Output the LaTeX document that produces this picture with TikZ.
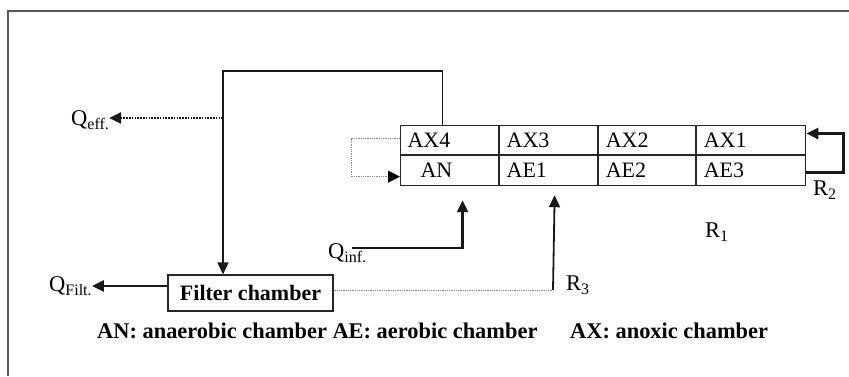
\documentclass[tikz,border=0pt]{standalone}
\usepackage{fontspec}
\setmainfont{Liberation Serif}
\usetikzlibrary{arrows.meta}
\newcommand\mysubt[1]{\raisebox{-4pt}{\fontsize{16}{16}\selectfont #1}}
\begin{document}
\begin{tikzpicture}[x=1pt,y=-1pt,
  cell/.style={draw=black!85, line width=1.1pt, anchor=north west, inner xsep=7pt, inner ysep=0pt,
    align=left, font=\fontsize{22}{24}\selectfont},
  filtbox/.style={draw=black!85, line width=1.1pt, minimum width=165pt, minimum height=36pt,
    inner sep=0pt, font=\fontsize{22}{24}\selectfont\bfseries},
  lbl/.style={anchor=base west, inner sep=0pt, font=\fontsize{22.5}{24}\selectfont},
  caption/.style={anchor=base west, inner sep=0pt, font=\fontsize{22.4}{24}\selectfont\bfseries},
  tip/.style={-{Triangle[length=12pt,width=11pt]}},
  loopline/.style={line width=1.5pt, black!90},
  thickarr/.style={line width=2.6pt, black!90, tip},
  medarr/.style={line width=1.8pt, black!90, tip},
  dotarr/.style={line width=2.6pt, black!90, dash pattern=on 1.6pt off 1.2pt, tip},
  thindot/.style={line width=0.8pt, black!45, dash pattern=on 1pt off 0.8pt},
  frame/.style={line width=2pt, black!65}
]
\useasboundingbox (0,0) rectangle (849,376);
% frame
\draw[frame] (8,376) -- (8,11) -- (849,11);

% table cells
\node[cell, text width=84pt, minimum height=29pt] (ax4) at (400,125) {AX4};
\node[cell, text width=84pt, minimum height=29pt] (ax3) at (ax4.north east) {AX3};
\node[cell, text width=83pt, minimum height=29pt] (ax2) at (ax3.north east) {AX2};
\node[cell, text width=95pt, minimum height=29pt] (ax1) at (ax2.north east) {AX1};
\node[cell, text width=84pt, minimum height=30pt] (an) at (ax4.south west) {\hspace{13pt}AN};
\node[cell, text width=84pt, minimum height=30pt] (ae1) at (an.north east) {AE1};
\node[cell, text width=83pt, minimum height=30pt] (ae2) at (ae1.north east) {AE2};
\node[cell, text width=95pt, minimum height=30pt] (ae3) at (ae2.north east) {AE3};

% filter chamber
\node[filtbox] (filt) at (250.5,293) {Filter chamber};

% labels
\node[lbl] (qeff) at (71,125) {Q\mysubt{eff.}};
\node[lbl] (qfilt) at (49,291) {Q\mysubt{Filt.}};
\node[lbl] (qinf) at (328,258) {Q\mysubt{inf.}};
\node[lbl] (r3) at (566,290) {R\mysubt{3}};
\node[lbl] (r1) at (705,237) {R\mysubt{1}};
\node[lbl] (r2) at (813,195) {R\mysubt{2}};

\node[caption] (cap1) at (97,338) {AN: anaerobic chamber AE: aerobic chamber};
\node[caption] (cap2) at (570,338) {AX: anoxic chamber};

% top loop to filter chamber
\draw[loopline, tip] ([xshift=-7pt]ax4.north) -- ++(0,-54) -| ([xshift=-27.5pt]filt.north);
\coordinate (qe) at (223,118);
\draw[dotarr] (qe) -- (qeff.east |- qe);

% left recirculation AX4 -> AN
\draw[thindot, -{Triangle[length=12pt,width=12pt,black]}] ([yshift=1.5pt]ax4.west) -- ++(-49,0) |- ([yshift=-6pt]an.west);

% right loop R2
\draw[thickarr] ([yshift=-2pt]ae3.east) -- ++(37,0) |- ([yshift=6.5pt]ax1.east);

% Q filt
\coordinate (qfa) at ([yshift=7pt]filt.west);
\draw[thickarr] (qfa) -- (qfilt.east |- qfa);

% Q inf
\coordinate (qs) at (352,248);
\draw[thickarr] (qs) -| ([xshift=13pt,yshift=-14pt]an.south);

% R3
\coordinate (r3c) at (553,290);
\draw[thindot] ([yshift=3pt]filt.east) -- (r3c);
\draw[medarr] (r3c) -- ([xshift=6pt,yshift=-9pt]ae1.south);
\end{tikzpicture}
\end{document}
